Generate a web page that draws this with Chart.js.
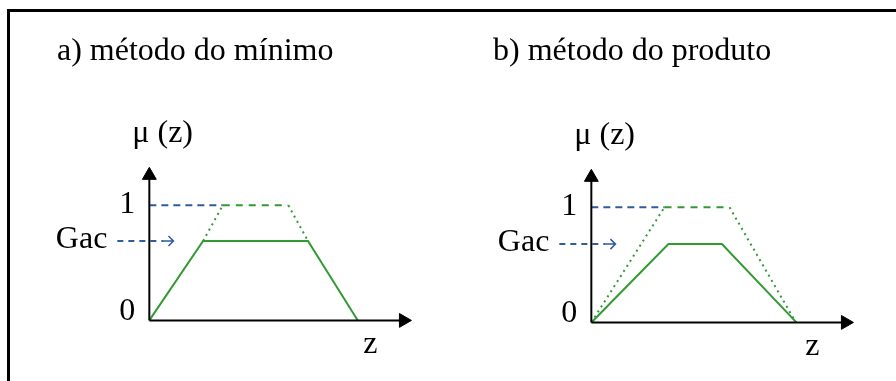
<!DOCTYPE html>
<html>
<head>
<meta charset="utf-8">
<script src="https://cdn.jsdelivr.net/npm/chart.js@4"></script>
<style>
  html, body { margin: 0; padding: 0; background: #fff; overflow: hidden; width: 896px; height: 381px; }
  #frame { position: absolute; left: 7px; top: 9px; width: 900px; height: 400px;
           border-top: 3px solid #000; border-left: 3px solid #000; }
  canvas { position: absolute; }
  #panelA { left: -8px; top: -2px; }
  #panelB { left: 434px; top: 0px; }
</style>
</head>
<body>
<div id="frame"></div>
<canvas id="panelA" width="472" height="380"></canvas>
<canvas id="panelB" width="472" height="380"></canvas>
<script>
const GREEN = '#339933';
const BLUE = '#2e5c9e';

// activation degree of the rule, one per method
const gacLevels = [0.69, 0.68];
const yTickValues = [0, 1];
const yTickLabels = ['0', '1'];

// a) mínimo: output set cut at Gac
const minResult = [[0, 0], [2.05, 0.69], [6.05, 0.69], [7.95, 0]];
const minRise = [[2.05, 0.69], [2.8, 1]];
const minFall = [[5.3, 1], [6.05, 0.69]];
const minTop = [[2.8, 1], [5.3, 1]];

// b) produto: output set scaled by Gac
const prodResult = [[0, 0], [2.94, 0.68], [4.98, 0.68], [7.82, 0]];
const prodRise = [[0, 0], [2.79, 1]];
const prodFall = [[5.27, 1], [7.8, 0]];
const prodTop = [[2.79, 1], [5.27, 1]];

// dashed Gac pointer, from left of the axis into the plot
const gacArrowX = [-1.22, 0.92];

const pts = arr => arr.map(([x, y]) => ({ x, y }));

function line(arr, color, dash) {
  return {
    data: pts(arr), showLine: true, borderColor: color, borderWidth: 2,
    borderDash: dash || [], pointRadius: 0, fill: false
  };
}

const labelsPlugin = {
  id: 'panelLabels',
  afterDatasetsDraw(chart, args, opts) {
    const { ctx, scales: { x, y } } = chart;
    const x0 = x.getPixelForValue(0);
    const y0 = y.getPixelForValue(0);
    ctx.save();
    ctx.fillStyle = '#000';
    ctx.font = '32px "Liberation Serif"';
    ctx.textBaseline = 'alphabetic';
    ctx.textAlign = 'left';
    ctx.fillText(opts.title, opts.titleX, opts.titleY);
    ctx.fillText('\u03bc (z)', x0 - 17, y.getPixelForValue(1) - 63);
    ctx.fillText('z', x0 + 214, y0 + 33);

    ctx.textAlign = 'right';
    yTickValues.forEach((v, i) => {
      ctx.fillText(yTickLabels[i], x0 - 14, y.getPixelForValue(v) + (v ? 8 : 0));
    });
    const yg = y.getPixelForValue(opts.gac);
    ctx.fillText('Gac', x0 - 42, yg + 7);

    // arrow tip of the Gac pointer
    const xe = x.getPixelForValue(gacArrowX[1]);
    ctx.strokeStyle = BLUE;
    ctx.lineWidth = 1.5;
    ctx.beginPath();
    ctx.moveTo(xe - 11, yg);
    ctx.lineTo(xe, yg);
    ctx.moveTo(xe - 5, yg - 5);
    ctx.lineTo(xe, yg);
    ctx.lineTo(xe - 5, yg + 5);
    ctx.stroke();
    ctx.restore();
  }
};

function makePanel(id, p) {
  const gac = p.gac;
  const datasets = [
    // axes with arrow heads
    { data: [{ x: 0, y: 0 }, { x: 0, y: 1.26 }], showLine: true, borderColor: '#000', borderWidth: 2,
      pointRadius: [0, 8], pointStyle: 'triangle', pointRotation: 0,
      pointBackgroundColor: '#000', pointBorderColor: '#000', pointBorderWidth: 1 },
    { data: [{ x: 0, y: 0 }, { x: 9.69, y: 0 }], showLine: true, borderColor: '#000', borderWidth: 2,
      pointRadius: [0, 8], pointStyle: 'triangle', pointRotation: 90,
      pointBackgroundColor: '#000', pointBorderColor: '#000', pointBorderWidth: 1 },
    line(p.result, GREEN),
    line(p.rise, GREEN, [2, 4]),
    line(p.fall, GREEN, [2, 4]),
    line(p.top, GREEN, [7, 6]),
    line([[0, 1], p.top[0]], BLUE, [7, 5]),
    line([[gacArrowX[0], gac], [gacArrowX[1] - 0.4, gac]], BLUE, [6, 5])
  ];

  new Chart(document.getElementById(id), {
    type: 'scatter',
    data: { datasets },
    options: {
      responsive: false,
      animation: false,
      devicePixelRatio: 1,
      layout: { padding: 0, autoPadding: false },
      scales: {
        x: { type: 'linear', min: -6, max: 12, display: false },
        y: { type: 'linear', min: -0.5, max: 2.8, display: false }
      },
      plugins: {
        legend: { display: false },
        tooltip: { enabled: false },
        panelLabels: { title: p.title, titleX: p.titleX, titleY: p.titleY, gac }
      }
    },
    plugins: [labelsPlugin]
  });
}

makePanel('panelA', {
  title: 'a) método do mínimo', titleX: 65, titleY: 62, gac: gacLevels[0],
  result: minResult, rise: minRise, fall: minFall, top: minTop
});
makePanel('panelB', {
  title: 'b) método do produto', titleX: 59, titleY: 60, gac: gacLevels[1],
  result: prodResult, rise: prodRise, fall: prodFall, top: prodTop
});
</script>
</body>
</html>
